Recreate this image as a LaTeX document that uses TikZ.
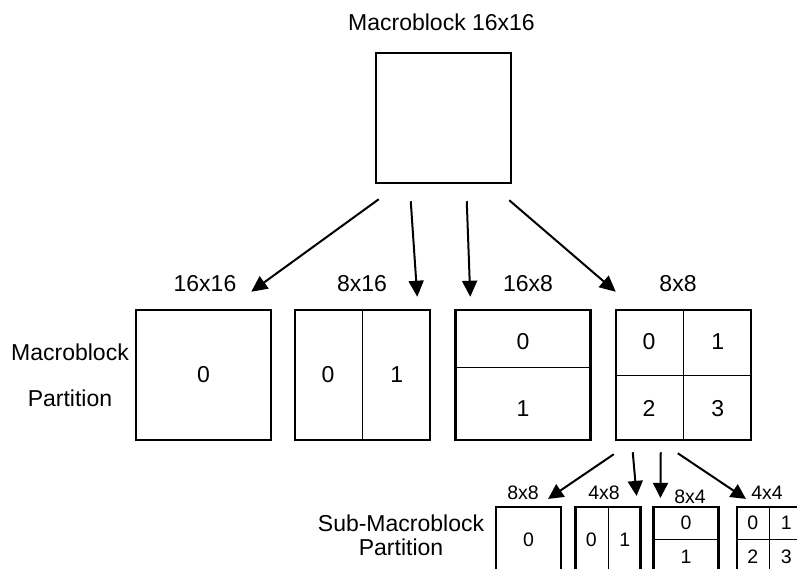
\documentclass[tikz,border=0pt]{standalone}
\usepackage{fontspec}
\setmainfont{Liberation Sans}
\usepackage{tikz}
\usetikzlibrary{arrows.meta, calc}

\begin{document}
\begin{tikzpicture}[
    x=1pt, y=-1pt,
    blk/.style={rectangle, draw, line width=2.5pt, minimum width=135pt, minimum height=130pt, inner sep=0pt},
    subblk/.style={rectangle, draw, line width=2.2pt, minimum width=65pt, minimum height=65pt, inner sep=0pt},
    lbl/.style={font=\fontsize{23}{27}\selectfont, inner sep=0pt},
    sublbl/.style={font=\fontsize{19.5}{23}\selectfont, inner sep=0pt},
    div/.style={line width=1pt},
    arr/.style={-{Triangle[length=16pt, width=15pt]}, line width=2pt},
    subarr/.style={-{Triangle[length=15pt, width=15pt]}, line width=2pt}
]
    \useasboundingbox (0,0) rectangle (797,569);

    % Macroblock on top
    \node[lbl] (title) at (441.5,22) {Macroblock 16x16};
    \node[blk] (mb) at (443.5,118) {};

    % Macroblock partitions
    \node[lbl] (mbpa) at (70,352) {Macroblock};
    \node[lbl] (mbpb) at (70,398) {Partition};

    \node[blk] (p16x16) at (203.5,375) {};
    \node[blk] (p8x16) at (362.5,375) {};
    \node[blk] (p16x8) at (523,375) {};
    \node[blk] (p8x8) at (683.5,375) {};

    \node[lbl] (l16x16) at (205,284) {16x16};
    \node[lbl] (l8x16) at (362,284) {8x16};
    \node[lbl] (l16x8) at (528,284) {16x8};
    \node[lbl] (l8x8) at (678,284) {8x8};

    \draw[div] (p8x16.north) -- (p8x16.south);
    \draw[div] ([yshift=8pt]p16x8.west) -- ([yshift=8pt]p16x8.east);
    \draw[div] (p8x8.north) -- (p8x8.south);
    \draw[div] (p8x8.west) -- (p8x8.east);

    \node[lbl] (n1) at (p16x16.center) {0};
    \node[lbl] (n2a) at ($(p8x16.center)!0.5!(p8x16.west)$) {0};
    \node[lbl] (n2b) at ($(p8x16.center)!0.5!(p8x16.east)$) {1};
    \node[lbl] (n3a) at ($(p16x8.center)!0.5!(p16x8.north)$) {0};
    \node[lbl] (n3b) at ($(p16x8.center)!0.5!(p16x8.south)$) {1};
    \node[lbl] (n4a) at ($(p8x8.center)!0.5!(p8x8.north west)$) {0};
    \node[lbl] (n4b) at ($(p8x8.center)!0.5!(p8x8.north east)$) {1};
    \node[lbl] (n4c) at ($(p8x8.center)!0.5!(p8x8.south west)$) {2};
    \node[lbl] (n4d) at ($(p8x8.center)!0.5!(p8x8.south east)$) {3};

    % Sub-macroblock partitions
    \node[lbl] (smbpa) at (401,523) {Sub-Macroblock};
    \node[lbl] (smbpb) at (401,547) {Partition};

    \node[subblk] (s8x8) at (528.5,539.5) {};
    \node[subblk] (s4x8) at (608,539.5) {};
    \node[subblk] (s8x4) at (686,539.5) {};
    \node[subblk] (s4x4) at (769.5,539.5) {};

    \node[sublbl] (ls8x8) at (523,493) {8x8};
    \node[sublbl] (ls4x8) at (604,493) {4x8};
    \node[sublbl] (ls8x4) at (690,497) {8x4};
    \node[sublbl] (ls4x4) at (767,493) {4x4};

    \draw[div] (s4x8.north) -- (s4x8.south);
    \draw[div] (s8x4.west) -- (s8x4.east);
    \draw[div] (s4x4.north) -- (s4x4.south);
    \draw[div] (s4x4.west) -- (s4x4.east);

    \node[sublbl] (m1) at (s8x8.center) {0};
    \node[sublbl] (m2a) at ($(s4x8.center)!0.5!(s4x8.west)$) {0};
    \node[sublbl] (m2b) at ($(s4x8.center)!0.5!(s4x8.east)$) {1};
    \node[sublbl] (m3a) at ($(s8x4.center)!0.5!(s8x4.north)$) {0};
    \node[sublbl] (m3b) at ($(s8x4.center)!0.5!(s8x4.south)$) {1};
    \node[sublbl] (m4a) at ($(s4x4.center)!0.5!(s4x4.north west)$) {0};
    \node[sublbl] (m4b) at ($(s4x4.center)!0.5!(s4x4.north east)$) {1};
    \node[sublbl] (m4c) at ($(s4x4.center)!0.5!(s4x4.south west)$) {2};
    \node[sublbl] (m4d) at ($(s4x4.center)!0.5!(s4x4.south east)$) {3};

    % Arrows
    \draw[arr] ([shift={(4,15)}]mb.south west) -- ([shift={(-21,-17)}]p16x16.north east);
    \draw[arr] ([shift={(36,17)}]mb.south west) -- ([shift={(-14,-12)}]p8x16.north east);
    \draw[arr] ([shift={(92,17)}]mb.south west) -- ([shift={(16,-12)}]p16x8.north west);
    \draw[arr] ([shift={(-3,16)}]mb.south east) -- ([shift={(1,-17)}]p8x8.north west);

    \draw[subarr] ([shift={(-1,13)}]p8x8.south west) -- ([shift={(-14,-7)}]s8x8.north east);
    \draw[subarr] ([shift={(18,11)}]p8x8.south west) -- ([shift={(-5,-10)}]s4x8.north east);
    \draw[subarr] ([shift={(46,11)}]p8x8.south west) -- ([shift={(8,-8)}]s8x4.north west);
    \draw[subarr] ([shift={(63,12)}]p8x8.south west) -- ([shift={(10,-7)}]s4x4.north west);
\end{tikzpicture}
\end{document}
